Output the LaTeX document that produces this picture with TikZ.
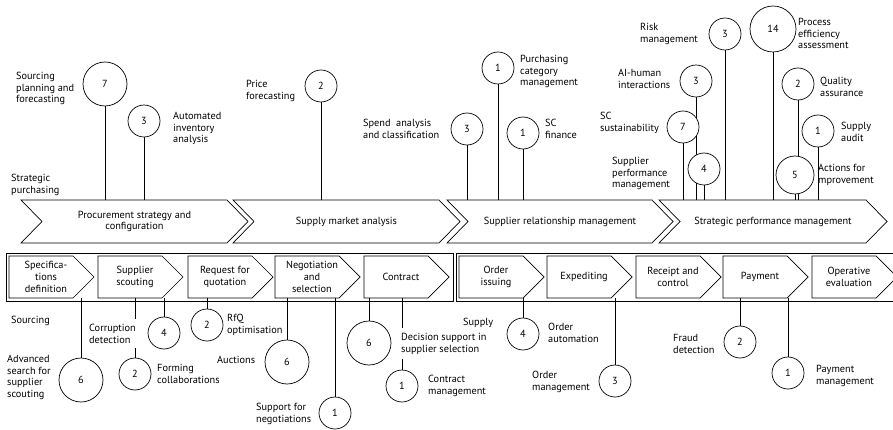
\documentclass[tikz,border=0pt]{standalone}
\usepackage{fontspec}
\setmainfont{PT Sans}
\usetikzlibrary{backgrounds}
\newcommand{\widthbody}{64}
\newcommand{\widthtip}{21}
\tikzset{
    common/.style={font=\fontsize{10.3}{11.7}\selectfont, inner sep=0pt},
    txt/.style={common, anchor=north west, align=left},
    gaptxt/.style={txt, fill=white, inner ysep=5pt, inner xsep=1pt},
    stagetxt/.style={common, align=center},
    steptxt/.style={common, align=center},
    usecase/.style={common, draw, circle, fill=white, line width=0.7pt, minimum size=32pt},
    midcase/.style={usecase, minimum size=38pt},
    bigcase/.style={usecase, minimum size=44pt},
    outline/.style={draw, line width=0.7pt, line join=miter},
    link/.style={line width=0.7pt}
}

\begin{document}
\begin{tikzpicture}[x=1pt, y=-1pt]
      \newcommand\stage[4]{
        \draw[outline] (#2,200) -- (#3,200) -- ++(\widthtip,21.5) -- (#3,243)
          -- (#2,243) -- ++(\widthtip,-21.5) -- cycle;
        \node[stagetxt] (#1) at ({(#2+#3+\widthtip)/2},221.5) {#4};
      }
      \newcommand\phase[3]{
        \draw[outline] (#2,256) -- ++(\widthbody,0) -- ++(\widthtip,21)
          -- ++(-\widthtip,21) -- ++(-\widthbody,0) -- cycle;
        \node[steptxt] (#1) at (#2+37,277) {#3};
      }

      \useasboundingbox (0,0) rectangle (893,430);
      \clip (0,0) rectangle (893,430);

      \coordinate (strat-top) at (0,200);
      \coordinate (op-bot) at (0,298);

      \stage{procure}{21}{227}{Procurement strategy and\\configuration}
      \stage{market}{233}{439}{Supply market analysis}
      \stage{relation}{447}{652}{Supplier relationship management}
      \stage{perform}{659}{866}{Strategic performance management}

      \draw[outline] (6,253) rectangle (453,301) (456,253) rectangle (900,301);
      \phase{spec}{9}{Specifica-\\tions\\definition}
      \phase{scout}{98}{Supplier\\scouting}
      \phase{request}{188}{Request for\\quotation}
      \phase{negotiate}{275}{Negotiation\\and\\selection}
      \phase{contract}{364}{Contract}
      \phase{issue}{459}{Order\\issuing}
      \phase{expedite}{547}{Expediting}
      \phase{receipt}{636}{Receipt and\\control}
      \phase{payment}{723}{Payment}
      \phase{evaluate}{812}{Operative\\evaluation}

      \node[txt] (strat-txt) at (11,174) {Strategic\\purchasing};
      \node[txt] (plan-txt) at (16,72) {Sourcing\\planning and\\forecasting};
      \node[bigcase] (plan) at (105,84) {7};
      \node[usecase] (inv) at (144,121) {3};
      \node[txt] (inv-txt) at (173,112) {Automated\\inventory\\analysis};
      \node[txt] (price-txt) at (246,80) {Price\\forecasting};
      \node[usecase] (price) at (321,86) {2};
      \node[txt] (spend-txt) at (363,119) {Spend~ analysis\\and classification};
      \node[usecase] (spend) at (467,129) {3};
      \node[usecase] (cat) at (498,68) {1};
      \node[txt] (cat-txt) at (520,55) {Purchasing\\category\\management};
      \node[usecase] (fin) at (523,133) {1};
      \node[txt] (fin-txt) at (545,119) {SC\\finance};
      \node[txt] (risk-txt) at (640,23) {Risk\\management};
      \node[usecase] (risk) at (725,34) {3};
      \node[usecase, minimum size=46pt] (proc) at (773,29) {14};
      \node[txt] (proc-txt) at (798,18) {Process\\efficiency\\assessment};
      \node[txt] (ai-txt) at (618,69) {AI-human\\interactions};
      \node[usecase] (ai) at (696,81) {3};
      \node[txt] (sust-txt) at (600,112) {SC\\sustainability};
      \node[usecase] (sust) at (683,127) {7};
      \node[txt] (perf-txt) at (612,157) {Supplier\\performance\\management};
      \node[usecase] (perf) at (704,169) {4};
      \node[usecase] (qual) at (798,84) {2};
      \node[txt] (qual-txt) at (820,77) {Quality\\assurance};
      \node[usecase] (audit) at (818,131) {1};
      \node[txt] (audit-txt) at (841,122) {Supply\\audit};
      \node[midcase] (act) at (795,175) {5};
      \node[txt] (act-txt) at (818,164) {Actions for\\mprovement};

      \node[txt] (sourcing-txt) at (11,316) {Sourcing};
      \node[txt] (search-txt) at (7,355) {Advanced\\search for\\supplier\\scouting};
      \node[bigcase] (search) at (81,380) {6};
      \node[gaptxt] (corr-txt) at (88,319) {Corruption\\detection};
      \node[usecase] (corr) at (164,333) {4};
      \node[usecase] (coll) at (135,374) {2};
      \node[txt] (coll-txt) at (157,364) {Forming\\collaborations};
      \node[usecase] (rfq) at (207,325) {2};
      \node[txt] (rfq-txt) at (227,314) {RfQ\\optimisation};
      \node[txt] (auct-txt) at (217,356) {Auctions};
      \node[bigcase] (auct) at (287,362) {6};
      \node[txt] (nego-txt) at (256,403) {Support for\\negotiations};
      \node[usecase] (nego) at (335,413) {1};
      \node[bigcase] (dec) at (369,343) {6};
      \node[gaptxt] (dec-txt) at (400,328) {Decision support in\\supplier selection};
      \node[usecase] (contr) at (402,386) {1};
      \node[txt] (contr-txt) at (428,375) {Contract\\management};
      \node[txt] (supply-txt) at (463,318) {Supply};
      \node[usecase] (autom) at (523,334) {4};
      \node[txt] (autom-txt) at (548,323) {Order\\automation};
      \node[txt] (ordm-txt) at (532,371) {Order\\management};
      \node[usecase] (ordm) at (615,381) {3};
      \node[txt] (fraud-txt) at (673,334) {Fraud\\detection};
      \node[usecase] (fraud) at (740,342) {2};
      \node[usecase] (paym) at (788,373) {1};
      \node[txt] (paym-txt) at (816,365) {Payment\\management};

      \begin{pgfonlayer}{background}
        \draw[link] (plan.south) -- (plan.south |- strat-top)
          (inv.south) -- (inv.south |- strat-top)
          (price.south) -- (price.south |- strat-top)
          (spend.south) -- (spend.south |- strat-top)
          (cat.south) -- (cat.south |- strat-top)
          (fin.south) -- (fin.south |- strat-top)
          (risk.south) -- (risk.south |- strat-top)
          (proc.south) -- (proc.south |- strat-top)
          (ai.south) -- (ai.south |- strat-top)
          (sust.south) -- (sust.south |- strat-top)
          (perf.south) -- (perf.south |- strat-top)
          (qual.south) -- (qual.south |- strat-top)
          (audit.south) -- (audit.south |- strat-top)
          (act.south) -- (act.south |- strat-top);
        \draw[link] (search.north) -- (search.north |- op-bot)
          (corr.north) -- (corr.north |- op-bot)
          (coll.north) -- (coll.north |- op-bot)
          (rfq.north) -- (rfq.north |- op-bot)
          (auct.north) -- (auct.north |- op-bot)
          (nego.north) -- (nego.north |- op-bot)
          (dec.north) -- (dec.north |- op-bot)
          (contr.north) -- (contr.north |- op-bot)
          (autom.north) -- (autom.north |- op-bot)
          (ordm.north) -- (ordm.north |- op-bot)
          (fraud.north) -- (fraud.north |- op-bot)
          (paym.north) -- (paym.north |- op-bot);
      \end{pgfonlayer}
\end{tikzpicture}
\end{document}
